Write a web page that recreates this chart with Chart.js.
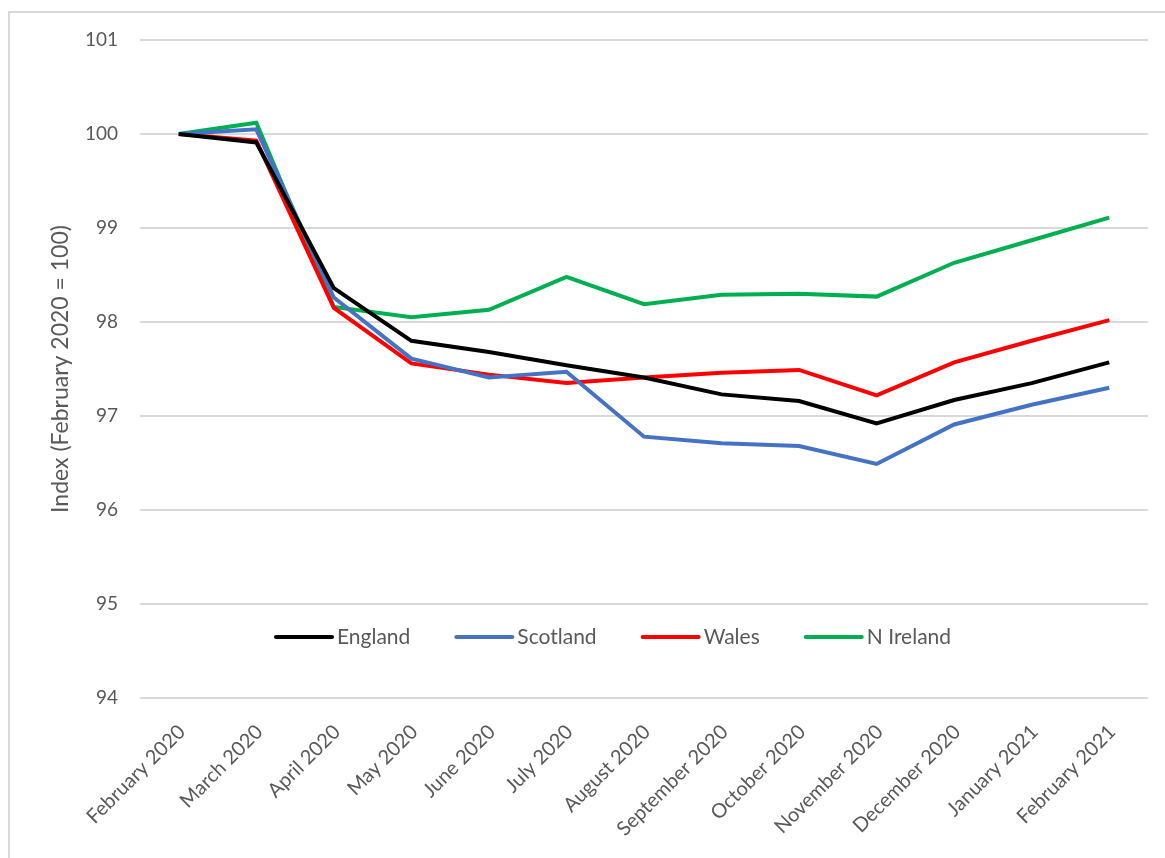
<!DOCTYPE html>
<html>
<head>
<meta charset="utf-8">
<script src="https://cdn.jsdelivr.net/npm/chart.js@4.4.1/dist/chart.umd.min.js"></script>
<style>
  html, body { margin: 0; padding: 0; background: #fff; }
  body { width: 1165px; height: 858px; position: relative; overflow: hidden; }
  .frame { position: absolute; left: 8px; top: 11px; right: -10px; bottom: -10px;
           border-top: 2px solid #d9d9d9; border-left: 2px solid #d9d9d9; }
  #wrap { position: absolute; left: 0; top: 0; width: 1165px; height: 858px; }
</style>
</head>
<body>
<div class="frame"></div>
<div id="wrap"><canvas id="employeesChart"></canvas></div>
<script>
const months = ["February 2020", "March 2020", "April 2020", "May 2020", "June 2020", "July 2020",
    "August 2020", "September 2020", "October 2020", "November 2020", "December 2020",
    "January 2021", "February 2021"];

const england   = [100, 99.91, 98.36, 97.80, 97.68, 97.54, 97.41, 97.23, 97.16, 96.92, 97.17, 97.35, 97.57];
const scotland  = [100, 100.05, 98.26, 97.61, 97.41, 97.47, 96.78, 96.71, 96.68, 96.49, 96.91, 97.12, 97.30];
const wales     = [100, 99.93, 98.15, 97.56, 97.44, 97.35, 97.41, 97.46, 97.49, 97.22, 97.57, 97.80, 98.02];
const nIreland  = [100, 100.12, 98.16, 98.05, 98.13, 98.48, 98.19, 98.29, 98.30, 98.27, 98.63, 98.87, 99.11];

const yTicks = [94, 95, 96, 97, 98, 99, 100, 101];

const FONT = "Lato, 'Open Sans', sans-serif";
const GREY = "#595959";

// legend sits inside the plot, just above the 94 line
const insideLegend = {
    id: "insideLegend",
    afterDatasetsDraw(chart) {
        const { ctx, chartArea, scales } = chart;
        let x = chartArea.left + 136;
        const y = scales.y.getPixelForValue(94.65);
        ctx.save();
        ctx.font = "21px " + FONT;
        ctx.textBaseline = "middle";
        chart.data.datasets.forEach(ds => {
            ctx.strokeStyle = ds.borderColor;
            ctx.lineWidth = 4;
            ctx.lineCap = "round";
            ctx.beginPath();
            ctx.moveTo(x, y);
            ctx.lineTo(x + 56, y);
            ctx.stroke();
            ctx.fillStyle = GREY;
            ctx.fillText(ds.label, x + 61, y);
            x += 61 + ctx.measureText(ds.label).width + 46;
        });
        ctx.restore();
    }
};

function line(label, data, color) {
    return {
        label: label,
        data: data,
        borderColor: color,
        backgroundColor: color,
        borderWidth: 4,
        pointRadius: 0,
        tension: 0,
        fill: false
    };
}

new Chart(document.getElementById("employeesChart"), {
    type: "line",
    data: {
        labels: months,
        datasets: [
            line("England", england, "#000000"),
            line("Scotland", scotland, "#4472C4"),
            line("Wales", wales, "#FF0000"),
            line("N Ireland", nIreland, "#00B050")
        ]
    },
    options: {
        responsive: true,
        maintainAspectRatio: false,
        animation: false,
        layout: { padding: { top: 40, right: 17, left: 0, bottom: 0 } },
        plugins: {
            legend: { display: false },
            tooltip: { enabled: false }
        },
        scales: {
            x: {
                offset: true,
                grid: { display: false },
                border: { display: false },
                ticks: {
                    color: GREY,
                    font: { family: FONT, size: 20 },
                    maxRotation: 45,
                    minRotation: 45,
                    labelOffset: 3,
                    padding: 14
                },
                afterFit(scale) { scale.height = 160; }
            },
            y: {
                min: 94,
                max: 101,
                afterBuildTicks(scale) { scale.ticks = yTicks.map(v => ({ value: v })); },
                grid: { color: "#d9d9d9", lineWidth: 2, drawTicks: false },
                border: { display: false },
                ticks: {
                    color: GREY,
                    font: { family: FONT, size: 19 },
                    padding: 22
                },
                title: {
                    display: true,
                    text: "Index (February 2020 = 100)",
                    color: GREY,
                    font: { family: FONT, size: 23 },
                    padding: { top: 47, bottom: 0 }
                },
                afterFit(scale) { scale.width = 140; }
            }
        }
    },
    plugins: [insideLegend]
});
</script>
</body>
</html>
